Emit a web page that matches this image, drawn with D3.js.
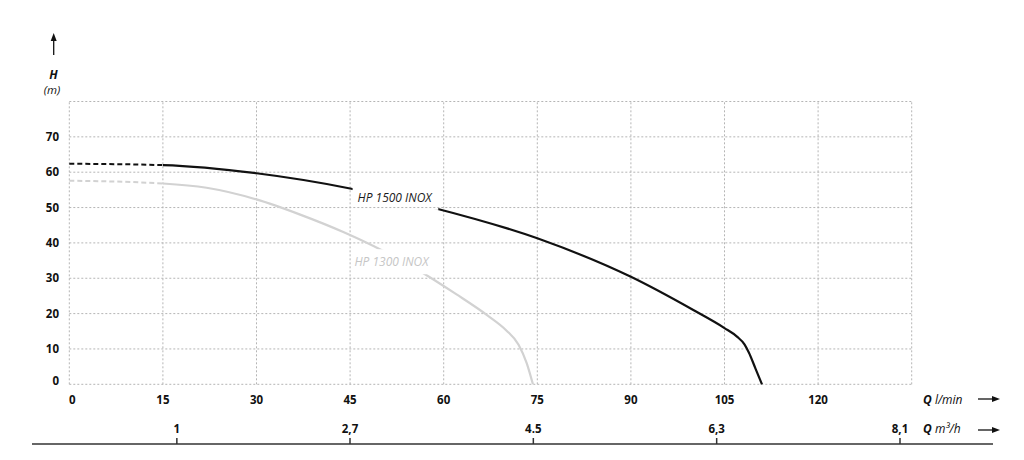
<!DOCTYPE html>
<html>
<head>
<meta charset="utf-8">
<script src="https://cdn.jsdelivr.net/npm/d3@7"></script>
<style>
  html, body { margin: 0; padding: 0; background: #fff; }
  svg { display: block; font-family: "Open Sans", "DejaVu Sans", sans-serif; }
</style>
</head>
<body>
<svg id="chart" width="1024" height="460"></svg>
<script>
// ---- data ----
const qTicks = [0, 15, 30, 45, 60, 75, 90, 105, 120];
const qGrid = [0, 15, 30, 45, 60, 75, 90, 105, 120, 135];
const hTicks = [0, 10, 20, 30, 40, 50, 60, 70];
const hGrid = [0, 10, 20, 30, 40, 50, 60, 70, 80];
const m3hTicks = [1, 2.7, 4.5, 6.3, 8.1];
const m3hLabels = ["1", "2,7", "4.5", "6,3", "8,1"];

const q1500 = [0, 15, 30, 45, 58, 75, 90, 100, 105, 107, 108.2, 108.9, 110, 111];
const h1500 = [62.4, 62.0, 59.7, 55.4, 50.1, 41.3, 30.4, 21.0, 15.9, 13.5, 11.3, 9.0, 4.3, 0];
const q1300 = [0, 15, 22, 30, 37, 44, 50, 56, 62, 67, 70, 72, 73.3, 74.3];
const h1300 = [57.6, 56.8, 55.6, 52.3, 48.0, 43.0, 38.0, 32.2, 25.5, 19.5, 15.3, 11.2, 6.0, 0];
const seriesNames = ["HP 1500 INOX", "HP 1300 INOX"];
const dashedUntil = 15;

// ---- layout ----
const svg = d3.select("#chart");
const x = d3.scaleLinear().domain([0, 135]).range([69.3, 911.7]);
const y = d3.scaleLinear().domain([0, 80]).range([384.3, 101.5]);
const xm = d3.scaleLinear().domain([0, 8.1]).range([75, 900]);

const gridColor = "#b5b5b5";
const grid = svg.append("g");
grid.selectAll("line.h").data(hGrid).join("line")
  .attr("x1", x(0)).attr("x2", x(135))
  .attr("y1", d => y(d)).attr("y2", d => y(d))
  .attr("stroke", gridColor).attr("stroke-width", 1).attr("stroke-dasharray", "2,2");
grid.selectAll("line.v").data(qGrid).join("line")
  .attr("y1", y(0)).attr("y2", y(80))
  .attr("x1", d => x(d)).attr("x2", d => x(d))
  .attr("stroke", gridColor).attr("stroke-width", 1).attr("stroke-dasharray", "2,2");

// tick labels
svg.append("g").selectAll("text").data(hTicks).join("text")
  .attr("x", 59).attr("y", d => y(d) + (d === 0 ? -3.5 : 0))
  .attr("dy", "0.35em").attr("text-anchor", "end")
  .attr("font-size", 11.5).attr("font-weight", 700).attr("fill", "#111")
  .text(d => d);
svg.append("g").selectAll("text").data(qTicks).join("text")
  .attr("x", d => x(d) + (d === 0 ? 3 : 0)).attr("y", 399.5)
  .attr("dy", "0.35em").attr("text-anchor", "middle")
  .attr("font-size", 11.5).attr("font-weight", 700).attr("fill", "#111")
  .text(d => d);

// series labels (drawn first to measure)
const labelPos = [{q: 46.2, h: 51.6, color: "#1a1a1a"}, {q: 45.7, h: 33.4, color: "#c6c6c6"}];
const labels = svg.append("g").selectAll("text").data(seriesNames).join("text")
  .attr("x", (d, i) => x(labelPos[i].q)).attr("y", (d, i) => y(labelPos[i].h))
  .attr("font-size", 12).attr("font-style", "italic").attr("fill", (d, i) => labelPos[i].color)
  .attr("textLength", 74).attr("lengthAdjust", "spacingAndGlyphs")
  .text(d => d);

const defs = svg.append("defs");
// mask to break curves at labels
const mask = defs.append("mask").attr("id", "lblmask").attr("maskUnits", "userSpaceOnUse")
  .attr("x", 0).attr("y", 0).attr("width", 1024).attr("height", 460);
mask.append("rect").attr("x", 0).attr("y", 0).attr("width", 1024).attr("height", 460).attr("fill", "#fff");
labels.each(function() {
  const b = this.getBBox();
  mask.append("rect").attr("x", b.x - 5).attr("y", b.y - 4)
    .attr("width", b.width + 10).attr("height", b.height + 8).attr("fill", "#000");
});
// clips splitting dashed / solid parts
defs.append("clipPath").attr("id", "clipDash").append("rect")
  .attr("x", 0).attr("y", 0).attr("width", x(dashedUntil)).attr("height", 460);
defs.append("clipPath").attr("id", "clipSolid").append("rect")
  .attr("x", x(dashedUntil)).attr("y", 0).attr("width", 1024 - x(dashedUntil)).attr("height", 460);

// curves
const line = d3.line().x(d => x(d[0])).y(d => y(d[1])).curve(d3.curveMonotoneX);
const curves = svg.append("g").attr("mask", "url(#lblmask)");
function drawSeries(qs, hs, color) {
  const pts = qs.map((q, i) => [q, hs[i]]);
  const d = line(pts);
  curves.append("path").attr("d", d).attr("fill", "none").attr("clip-path", "url(#clipDash)")
    .attr("stroke", color).attr("stroke-width", 2).attr("stroke-dasharray", "5,3");
  curves.append("path").attr("d", d).attr("fill", "none").attr("clip-path", "url(#clipSolid)")
    .attr("stroke", color).attr("stroke-width", 2.2);
}
drawSeries(q1300, h1300, "#d2d2d2");
drawSeries(q1500, h1500, "#111");

// bottom m3/h axis
const axisY = 444;
svg.append("line").attr("x1", 32).attr("x2", 993).attr("y1", axisY).attr("y2", axisY)
  .attr("stroke", "#333").attr("stroke-width", 1.5);
const mt = svg.append("g").selectAll("g").data(m3hTicks).join("g")
  .attr("transform", d => `translate(${xm(d)},0)`);
mt.append("line").attr("y1", axisY - 6).attr("y2", axisY).attr("stroke", "#333").attr("stroke-width", 1.5);
mt.append("text").attr("y", 429).attr("dy", "0.35em").attr("text-anchor", "middle")
  .attr("font-size", 11.5).attr("font-weight", 700).attr("fill", "#111")
  .text((d, i) => m3hLabels[i]);

// axis titles
function arrowH(x1, x2, yy) {
  svg.append("line").attr("x1", x1).attr("x2", x2 - 6).attr("y1", yy).attr("y2", yy)
    .attr("stroke", "#111").attr("stroke-width", 1.3);
  svg.append("path").attr("d", `M${x2},${yy} L${x2 - 8},${yy - 3} L${x2 - 8},${yy + 3} Z`).attr("fill", "#111");
}
const t1 = svg.append("text").attr("x", 923).attr("y", 399.5).attr("dy", "0.35em")
  .attr("font-size", 12).attr("fill", "#111").attr("font-style", "italic");
t1.append("tspan").attr("font-weight", 700).text("Q");
t1.append("tspan").text(" l/min");
arrowH(978, 1000, 399);
const t2 = svg.append("text").attr("x", 923).attr("y", 429).attr("dy", "0.35em")
  .attr("font-size", 12).attr("fill", "#111").attr("font-style", "italic");
t2.append("tspan").attr("font-weight", 700).text("Q");
t2.append("tspan").text(" m³/h");
arrowH(978, 1000, 430);

// H axis title
svg.append("line").attr("x1", 53.7).attr("x2", 53.7).attr("y1", 55).attr("y2", 40)
  .attr("stroke", "#111").attr("stroke-width", 1.3);
svg.append("path").attr("d", "M53.7,33 L50.7,41 L56.7,41 Z").attr("fill", "#111");
svg.append("text").attr("x", 53.5).attr("y", 75).attr("dy", "0.35em").attr("text-anchor", "middle")
  .attr("font-size", 12).attr("font-weight", 700).attr("font-style", "italic").attr("fill", "#111").text("H");
svg.append("text").attr("x", 52).attr("y", 89.5).attr("dy", "0.35em").attr("text-anchor", "middle")
  .attr("font-size", 11.5).attr("font-style", "italic").attr("fill", "#111").text("(m)");
</script>
</body>
</html>
